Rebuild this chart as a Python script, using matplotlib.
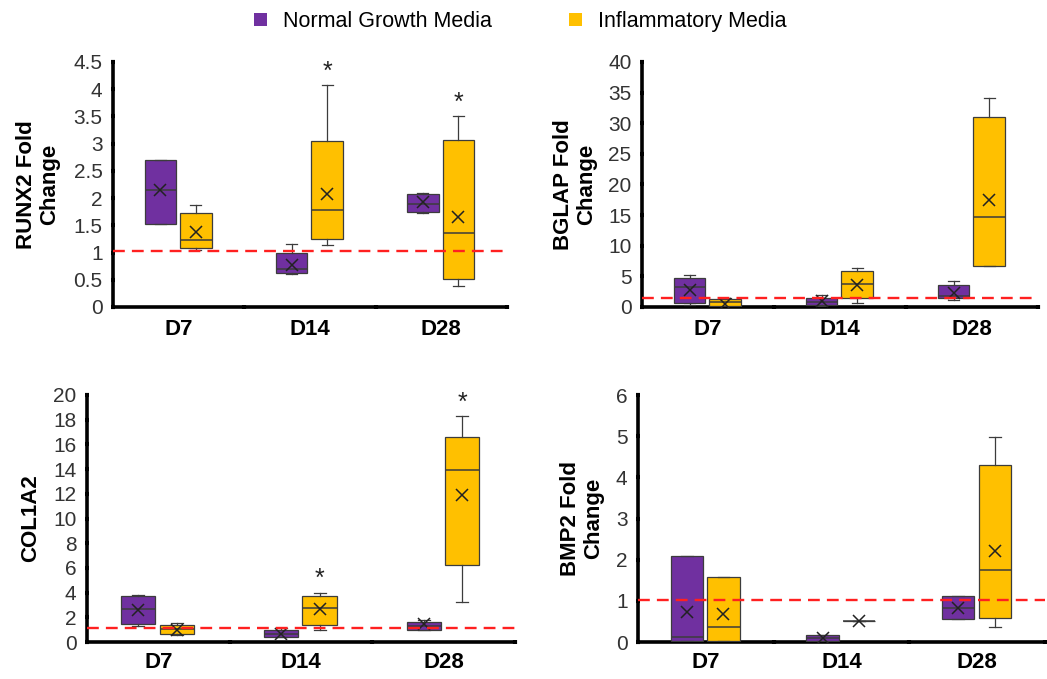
import matplotlib
matplotlib.use("Agg")
import matplotlib.pyplot as plt
from matplotlib.patches import Patch
from matplotlib.ticker import FuncFormatter

plt.rcParams['font.family'] = ['Liberation Sans', 'DejaVu Sans']

# ---------------- data ----------------
days = ["D7", "D14", "D28"]
series_names = ["Normal Growth Media", "Inflammatory Media"]
# each tuple: (whisker_low, q1, median, q3, whisker_high, mean) for D7, D14, D28
runx2_normal = [(1.52, 1.52, 2.15, 2.70, 2.70, 2.15),
                (0.60, 0.62, 0.70, 1.00, 1.15, 0.78),
                (1.73, 1.75, 1.90, 2.08, 2.10, 1.92)]
runx2_inflam = [(1.05, 1.08, 1.23, 1.73, 1.87, 1.38),
                (1.14, 1.25, 1.78, 3.05, 4.07, 2.07),
                (0.38, 0.52, 1.36, 3.07, 3.50, 1.65)]
bglap_normal = [(0.30, 0.60, 3.20, 4.80, 5.20, 2.85),
                (0.10, 0.30, 0.80, 1.50, 2.00, 0.90),
                (1.10, 1.40, 1.75, 3.55, 4.20, 2.30)]
bglap_inflam = [(0.00, 0.15, 0.80, 1.35, 1.50, 0.55),
                (0.65, 1.50, 3.80, 5.80, 6.30, 3.65),
                (6.70, 6.70, 14.70, 31.10, 34.20, 17.50)]
col1a2_normal = [(1.30, 1.43, 2.68, 3.76, 3.80, 2.62),
                 (0.40, 0.41, 0.68, 0.97, 1.14, 0.68),
                 (0.95, 0.97, 1.32, 1.59, 1.76, 1.43)]
col1a2_inflam = [(0.60, 0.62, 1.08, 1.41, 1.50, 1.00),
                 (1.00, 1.41, 2.78, 3.73, 4.00, 2.68),
                 (3.24, 6.24, 13.90, 16.57, 18.30, 11.90)]
bmp2_normal = [(0.02, 0.02, 0.13, 2.08, 2.08, 0.74),
               (0.02, 0.02, 0.10, 0.16, 0.16, 0.10),
               (0.55, 0.55, 0.83, 1.11, 1.11, 0.83)]
bmp2_inflam = [(0.02, 0.02, 0.37, 1.58, 1.58, 0.67),
               (0.51, 0.51, 0.51, 0.51, 0.51, 0.51),
               (0.37, 0.59, 1.76, 4.31, 4.99, 2.22)]
# significance stars on the inflammatory boxes
runx2_sig = [False, True, True]
bglap_sig = [False, False, False]
col1a2_sig = [False, True, True]
bmp2_sig = [False, False, False]
# reference (red dashed) levels
runx2_ref, bglap_ref, col1a2_ref, bmp2_ref = 1.02, 1.5, 1.1, 1.02
runx2_ticks = [0, 0.5, 1, 1.5, 2, 2.5, 3, 3.5, 4, 4.5]
bglap_ticks = [0, 5, 10, 15, 20, 25, 30, 35, 40]
col1a2_ticks = [0, 2, 4, 6, 8, 10, 12, 14, 16, 18, 20]
bmp2_ticks = [0, 1, 2, 3, 4, 5, 6]
ylabels = ["RUNX2 Fold\nChange", "BGLAP Fold\nChange", "COL1A2", "BMP2 Fold\nChange"]

# ---------------- style ----------------
PURPLE = "#7030A0"
YELLOW = "#FFC000"
EDGE = "#3c3c3c"
W, H = 1047, 679

fig = plt.figure(figsize=(W / 100, H / 100), dpi=100)


def px_axes(l, r, t, b):
    return fig.add_axes([l / W, 1 - b / H, (r - l) / W, (b - t) / H])


panels = [
    (px_axes(113, 507, 62, 307), runx2_normal, runx2_inflam, runx2_sig, runx2_ref, runx2_ticks, ylabels[0], -0.19, 9),
    (px_axes(642, 1038, 62, 307), bglap_normal, bglap_inflam, bglap_sig, bglap_ref, bglap_ticks, ylabels[1], -0.169, 9),
    (px_axes(87, 515, 395, 642), col1a2_normal, col1a2_inflam, col1a2_sig, col1a2_ref, col1a2_ticks, ylabels[2], -0.131, 7),
    (px_axes(638, 1045, 395, 642), bmp2_normal, bmp2_inflam, bmp2_sig, bmp2_ref, bmp2_ticks, ylabels[3], -0.138, 7),
]

offsets = [-0.14, 0.13]
bw = 0.24


def to_stats(rows):
    out = []
    for wlo, q1, med, q3, whi, mean in rows:
        out.append(dict(whislo=wlo, q1=q1, med=med, q3=q3, whishi=whi, mean=mean, fliers=[]))
    return out


for ax, normal, inflam, sig, ref, ticks, ylab, labx, xpad in panels:
    cats = list(range(1, len(days) + 1))
    for data, color, off in ((normal, PURPLE, offsets[0]), (inflam, YELLOW, offsets[1])):
        pos = [c + off for c in cats]
        ax.bxp(to_stats(data), positions=pos, widths=bw, patch_artist=True,
               showmeans=True, showfliers=False, capwidths=bw * 0.35,
               boxprops=dict(facecolor=color, edgecolor=EDGE, linewidth=0.9),
               medianprops=dict(color=EDGE, linewidth=1.1),
               whiskerprops=dict(color=EDGE, linewidth=0.9),
               capprops=dict(color=EDGE, linewidth=0.9),
               meanprops=dict(marker='x', markeredgecolor='#222222', markersize=8,
                              markeredgewidth=1.1),
               manage_ticks=False, zorder=3)
    for c, s, row in zip(cats, sig, inflam):
        if s:
            ax.annotate("*", (c + offsets[1], row[4]), xytext=(0, 1), textcoords='offset points',
                        ha='center', va='bottom', fontsize=18, color='#222222')
    ax.axhline(ref, color='#ff2020', linewidth=1.7, dashes=(5, 3), zorder=4)

    ax.set_xlim(0.5, len(days) + 0.5)
    ax.set_ylim(ticks[0], ticks[-1])
    ax.set_yticks(ticks)
    ax.yaxis.set_major_formatter(FuncFormatter(lambda v, p: f"{v:g}"))
    ax.set_xticks(cats)
    ax.set_xticklabels(days, fontsize=16, fontweight='bold')
    ax.set_xticks([c + 0.5 for c in cats], minor=True)
    ax.tick_params(axis='x', which='major', length=0, pad=xpad)
    ax.tick_params(axis='x', which='minor', length=3, width=3, direction='inout', color='black')
    ax.tick_params(axis='y', length=3, width=3, direction='inout', pad=6,
                   labelsize=15, labelcolor='#333333', color='black')
    for sp in ('top', 'right'):
        ax.spines[sp].set_visible(False)
    for sp in ('left', 'bottom'):
        ax.spines[sp].set_linewidth(2.6)
        ax.spines[sp].set_capstyle('round')
    ax.set_ylabel(ylab, fontsize=16, fontweight='bold', va='center', linespacing=1.15)
    ax.yaxis.set_label_coords(labx, 0.5)

handles = [Patch(facecolor=PURPLE, edgecolor='none'), Patch(facecolor=YELLOW, edgecolor='none')]
fig.legend(handles, series_names, loc='center', bbox_to_anchor=(0.497, 0.968), ncol=2,
           frameon=False, fontsize=15.5, handlelength=0.6, handleheight=0.6,
           handletextpad=0.75, columnspacing=3.6)

fig.savefig("out.png", dpi=100)
